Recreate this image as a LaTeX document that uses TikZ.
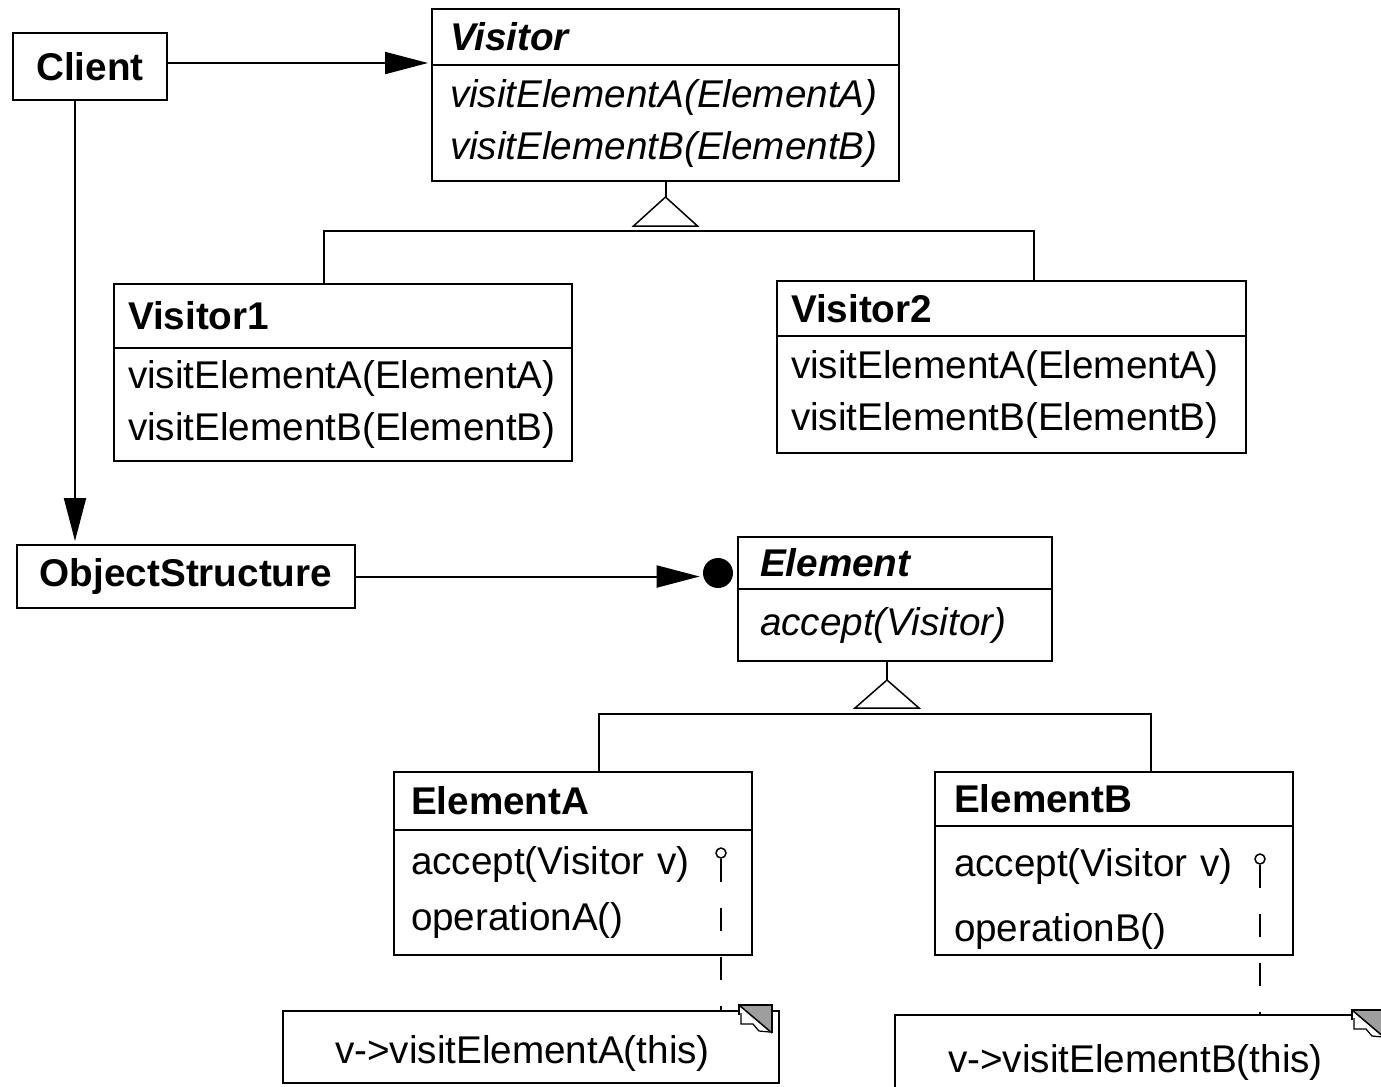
\documentclass[tikz,border=0pt]{standalone}
\usepackage{fontspec}
\setmainfont{Liberation Sans}
\usetikzlibrary{arrows.meta,calc}
\definecolor{earfill}{gray}{0.62}
\newcommand\umlfont{\fontsize{22}{29.6}\selectfont}
\tikzset{
  clsh/.style={draw, line width=0.4mm, outer sep=0pt, anchor=north west, align=left,
    inner xsep=2.8mm, inner ysep=0pt, font=\umlfont\bfseries},
  absh/.style={clsh, font=\umlfont\bfseries\itshape},
  clsb/.style={draw, line width=0.4mm, outer sep=0pt, anchor=north west, align=left,
    inner xsep=2.8mm, inner ysep=0pt, font=\umlfont},
  absb/.style={clsb, font=\umlfont\itshape},
  objb/.style={draw, line width=0.4mm, outer sep=0pt, anchor=north west, inner sep=0pt,
    font=\umlfont\bfseries},
  noteb/.style={draw, line width=0.4mm, outer sep=0pt, anchor=north west, align=left,
    inner xsep=10.4mm, inner ysep=0pt, font=\umlfont},
  link/.style={line width=0.4mm},
  nav/.style={link, -{Triangle[length=8.6mm, width=4.4mm]}, shorten >=0.8mm},
  gen/.style={line width=0.3mm, fill=white},
  impl/.style={line width=0.4mm, dash pattern=on 4.6mm off 5.2mm},
  hook/.style={circle, draw, line width=0.3mm, fill=white, inner sep=0pt, minimum size=2mm},
  many/.style={circle, fill=black, inner sep=0pt, minimum size=6mm},
  dogear/.pic={
    \fill[white] (0,0) rectangle (33,28);
    \fill[earfill] (0,0) -- (33,0) -- (33,28) -- cycle;
    \draw[line width=0.4mm] (0,10) -- (0,0) -- (33,0) -- (33,28);
    \draw[line width=0.3mm] (0,0) -- (33,28);
    \draw[line width=0.25mm] (2,8) -- (2,19) -- (14,19) -- (20,26) -- (31,27);
  },
}

\begin{document}
\begin{tikzpicture}[x=0.2mm, y=-0.2mm]
  \useasboundingbox (0,0) rectangle (1381,1086);
  \clip (0,0) rectangle (1381,1086);

  % visitors
  \node[objb, minimum width=30.8mm, minimum height=13.4mm] (client) at (13,33) {Client};
  \node[absh, inner xsep=3.6mm, text width=86.2mm, minimum height=11.2mm] (vish) at (432,9) {Visitor};
  \node[absb, inner xsep=3.6mm, text width=86.2mm, minimum height=23.2mm] (visb) at (vish.south west)
    {visitElementA(ElementA)\\visitElementB(ElementB)};
  \node[clsh, text width=86mm, minimum height=12.8mm] (v1h) at (114,284) {Visitor1};
  \node[clsb, text width=86mm, minimum height=22.6mm] (v1b) at (v1h.south west)
    {visitElementA(ElementA)\\visitElementB(ElementB)};
  \node[clsh, text width=88.2mm, minimum height=11mm] (v2h) at (777,281) {Visitor2};
  \node[clsb, text width=88.2mm, minimum height=23.4mm] (v2b) at (v2h.south west)
    {visitElementA(ElementA)\\visitElementB(ElementB)};

  % elements
  \node[objb, minimum width=67.6mm, minimum height=12.6mm] (objs) at (17,545) {ObjectStructure};
  \node[absh, inner xsep=4.4mm, text width=54mm, minimum height=10.4mm] (elh) at (738,537) {Element};
  \node[absb, inner xsep=4.4mm, text width=54mm, minimum height=14.4mm] (elb) at (elh.south west)
    {accept(Visitor)};
  \node[clsh, inner xsep=3.4mm, text width=64.8mm, minimum height=11.6mm] (eah) at (394,772) {ElementA};
  \node[clsb, inner xsep=3.4mm, text width=64.8mm, minimum height=25mm] (eab) at (eah.south west)
    {accept(Visitor v)\\[2.3pt]operationA()};
  \node[clsh, inner xsep=3.8mm, text width=64mm, minimum height=10.8mm] (ebh) at (935,772) {ElementB};
  \node[clsb, inner xsep=3.8mm, text width=64mm, minimum height=25.8mm] (ebb) at (ebh.south west)
    {\rule{0pt}{26pt}accept(Visitor v)\\[7.3pt]operationB()};

  % notes
  \node[noteb, text width=78.4mm, minimum height=14.4mm] (nota) at (283,1011)
    {\rule{0pt}{23pt}v->visitElementA(this)};
  \node[noteb, inner xsep=10.6mm, text width=78.8mm, minimum height=15mm] (notb) at (895,1015)
    {\rule{0pt}{27pt}v->visitElementB(this)};
  \node[hook] (hka) at (721,853) {};
  \node[hook] (hkb) at (1260,859) {};
  \draw[impl] (hka) -- (hka |- nota.north);
  \draw[impl] (hkb) -- (hkb |- notb.north);
  \pic at (739,1005) {dogear};
  \pic at (1352,1010) {dogear};

  % associations
  \node[many] (objmany) at (718,573) {};
  \draw[nav] ([yshift=0.7mm]client.east) -- ([yshift=0.7mm]client.east -| vish.west);
  \draw[nav] ([xshift=-3mm]client.south) -- ([xshift=-3mm]client.south |- objs.north);
  \draw[nav, shorten >=0.6mm] (objs.east) -- (objs.east -| objmany.west);

  % inheritance
  \draw[link] (visb.south) -- ++(0,16) coordinate (vapex);
  \draw[gen] (vapex) -- ++(-32,29) -- ++(64,0) -- cycle;
  \draw[link] ([xshift=-3.8mm]v1h.north) -- ++(0,-53) -| ([xshift=4.5mm]v2h.north);
  \draw[link] ([xshift=-1.6mm]elb.south) -- ++(0,19) coordinate (eapex);
  \draw[gen] (eapex) -- ++(-32,28) -- ++(64,0) -- cycle;
  \draw[link] ([xshift=5.2mm]eah.north) -- ++(0,-58) -| ([xshift=7.4mm]ebh.north);
\end{tikzpicture}
\end{document}
